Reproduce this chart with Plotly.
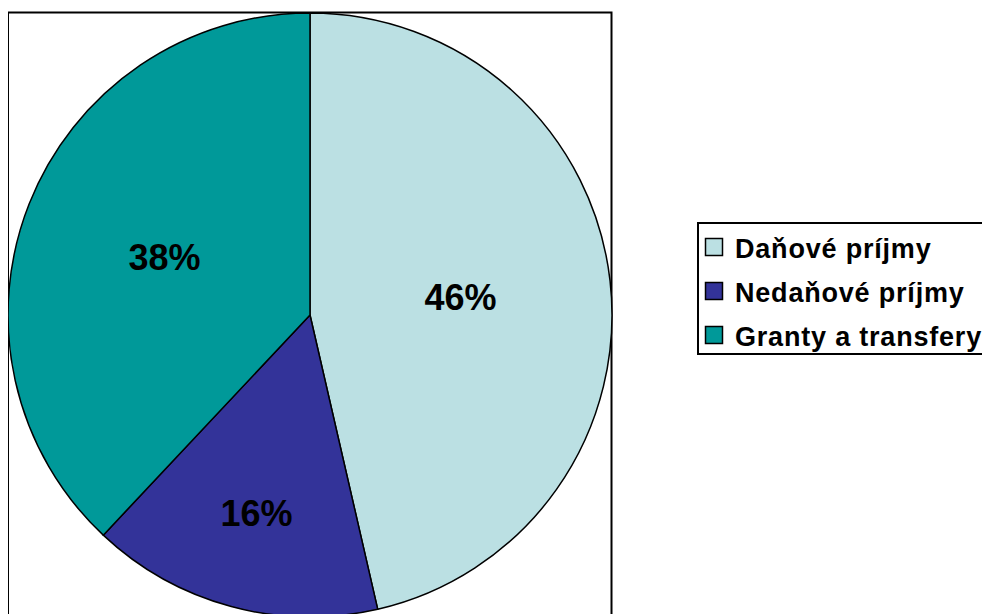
import plotly.graph_objects as go

labels = ["Daňové príjmy", "Nedaňové príjmy", "Granty a transfery"]
values = [46.4, 15.6, 38.0]
colors = ["#BBE0E3", "#333399", "#009999"]

fig = go.Figure(
    go.Pie(
        labels=labels,
        values=values,
        sort=False,
        direction="clockwise",
        rotation=0,
        marker=dict(colors=colors, line=dict(color="black", width=1.5)),
        textinfo="percent",
        texttemplate="%{percent:.0%}",
        textposition="inside",
        insidetextorientation="horizontal",
        textfont=dict(family="Arial", size=36, color="black", weight="bold"),
        domain=dict(x=[0.0, 0.6101], y=[0.0081, 0.9919]),
        hoverinfo="label+percent",
    )
)

fig.update_layout(
    width=990,
    height=614,
    margin=dict(l=0, r=0, t=0, b=0),
    paper_bgcolor="white",
    plot_bgcolor="white",
    showlegend=True,
    legend=dict(
        x=689 / 990,
        y=1 - 214 / 614,
        xanchor="left",
        yanchor="top",
        bgcolor="white",
        bordercolor="black",
        borderwidth=1.5,
        font=dict(family="Arial", size=27, color="black", weight="bold"),
        traceorder="normal",
    ),
    shapes=[
        dict(
            type="rect",
            xref="paper",
            yref="paper",
            x0=0.0,
            x1=0.6096,
            y0=-0.05,
            y1=0.9927,
            line=dict(color="black", width=2),
            fillcolor="rgba(0,0,0,0)",
            layer="below",
        )
    ],
)

post_js = """
(function(){
  var gd = document.getElementById('{plot_id}');
  if (!gd) return;
  var leg = gd.querySelector('g.legend');
  if (!leg) return;
  var W = 290, H = 131, first = 25, gap = 44;
  var traces = leg.querySelectorAll('g.traces');
  traces.forEach(function(t, i){
    t.setAttribute('transform', 'translate(0,' + (first + gap * i) + ')');
    var txt = t.querySelector('text.legendtext');
    if (txt) { txt.style.letterSpacing = '0.8px'; txt.setAttribute('x', 38); }
    var sym = t.querySelector('.legendpoints path');
    if (sym) {
      sym.setAttribute('d', 'M8.5,8.5H-8.5V-8.5H8.5Z');
      sym.setAttribute('transform', 'translate(17,0)');
    }
    var tog = t.querySelector('rect.legendtoggle');
    if (tog) tog.setAttribute('width', W);
  });
  var bg = leg.querySelector('rect.bg');
  if (bg) { bg.setAttribute('width', W); bg.setAttribute('height', H); }
  var sb = leg.querySelector('g.scrollbox');
  if (sb) {
    var cp = sb.getAttribute('clip-path') || '';
    var m = cp.match(/#([^"')]+)/);
    if (m) {
      var c = document.getElementById(m[1]);
      if (c) { var r = c.querySelector('rect'); if (r) { r.setAttribute('width', W + 2); r.setAttribute('height', H + 2); } }
    }
  }
})();
"""

fig.write_html("out.html", post_script=post_js)
